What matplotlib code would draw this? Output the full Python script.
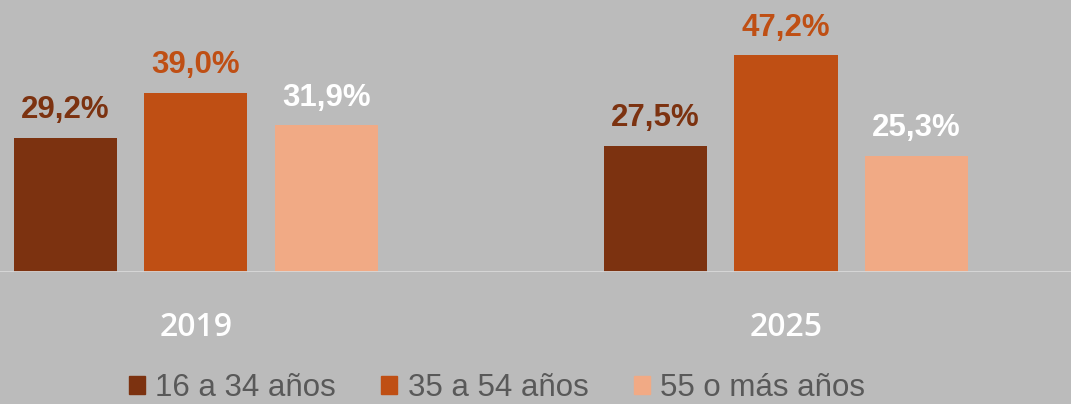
import numpy as np
import matplotlib
matplotlib.use("Agg")
import matplotlib.pyplot as plt
from matplotlib.patches import Patch

years = ["2019", "2025"]
series = ["16 a 34 años", "35 a 54 años", "55 o más años"]
values = [
    [29.2, 27.5],
    [39.0, 47.2],
    [31.9, 25.3],
]
colors = ["#7C3210", "#BF4F14", "#F1AA85"]
label_colors = ["#7C3210", "#BF4F14", "#FFFFFF"]
bg = "#BBBBBB"

fig = plt.figure(figsize=(10.71, 4.04), dpi=100, facecolor=bg)
ax = fig.add_axes([0, 0.3267, 1, 0.6733])
ax.set_facecolor(bg)

x = np.arange(len(years))
step = 0.221
width = 0.1746
for i, (name, vals) in enumerate(zip(series, values)):
    bars = ax.bar(x + (i - 1) * step, vals, width, color=colors[i], label=name)
    ax.bar_label(bars, labels=[f"{v:.1f}%".replace(".", ",") for v in vals],
                 padding=9, color=label_colors[i], fontsize=22.5,
                 fontweight="bold", family="Liberation Sans")

ax.set_xlim(-0.332, 1.483)
ax.set_ylim(0, 59.2)
ax.axhline(0, color="#D9D9D9", lw=2, zorder=3)
for s in ax.spines.values():
    s.set_visible(False)
ax.set_yticks([])
ax.set_xticks(x)
ax.set_xticklabels(years, fontsize=23, color="white", family="Open Sans",
                   fontweight="semibold")
ax.tick_params(axis="x", length=0, pad=28)

handles = [Patch(color=c, label=s) for c, s in zip(colors, series)]
fig.legend(handles=handles, loc="lower center", bbox_to_anchor=(0.464, -0.068),
           ncol=3, frameon=False,
           prop={"family": "Liberation Sans", "size": 22.5},
           labelcolor="#595959", handlelength=0.52, handleheight=0.52,
           handletextpad=0.33, columnspacing=1.45)

fig.savefig("out.png", dpi=100, facecolor=bg)
